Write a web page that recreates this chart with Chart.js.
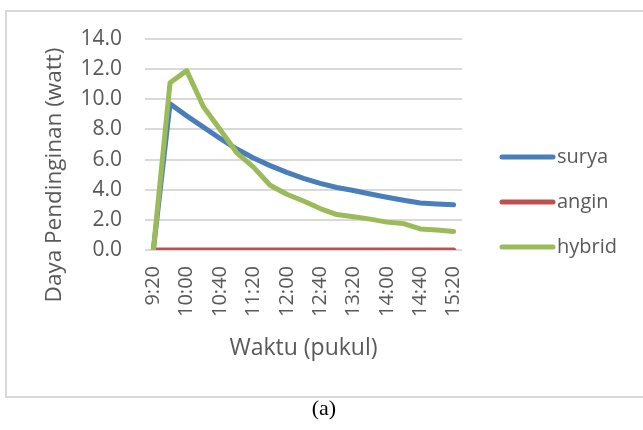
<!DOCTYPE html>
<html>
<head>
<meta charset="utf-8">
<script src="https://cdn.jsdelivr.net/npm/chart.js@4.4.0/dist/chart.umd.min.js"></script>
<style>
  html, body { margin: 0; padding: 0; background: #fff; width: 643px; height: 430px; overflow: hidden; }
  #frame { position: absolute; left: 5px; top: 10px; width: 700px; height: 388px; border: 2px solid #d9d9d9; box-sizing: border-box; }
  #wrap { position: absolute; left: 0; top: 0; width: 643px; height: 430px; }
  #caption { position: absolute; left: 0; width: 648px; top: 395px; text-align: center;
             font-family: 'Liberation Serif', 'Times New Roman', serif; font-size: 22px; color: #000; }
</style>
</head>
<body>
<div id="frame"></div>
<div id="wrap"><canvas id="c" width="643" height="430"></canvas></div>
<div id="caption">(a)</div>
<script>
// Time of day, every 20 minutes
const waktu = ['9:20', '9:40', '10:00', '10:20', '10:40', '11:00', '11:20', '11:40', '12:00', '12:20',
               '12:40', '13:00', '13:20', '13:40', '14:00', '14:20', '14:40', '15:00', '15:20'];

// Cooling power (watt) per source
const surya  = [0, 9.7, 8.9, 8.15, 7.4, 6.7, 6.1, 5.6, 5.15, 4.75, 4.42, 4.15, 3.95, 3.72, 3.5, 3.3, 3.12, 3.05, 3.0];
const angin  = [0, 0, 0, 0, 0, 0, 0, 0, 0, 0, 0, 0, 0, 0, 0, 0, 0, 0, 0];
const hybrid = [0, 11.1, 11.9, 9.5, 8.0, 6.45, 5.5, 4.3, 3.7, 3.25, 2.75, 2.35, 2.2, 2.05, 1.85, 1.75, 1.4, 1.32, 1.22];

const seriesNames  = ['surya', 'angin', 'hybrid'];
const seriesColors = ['#4a7ebb', '#c0504d', '#9bbb59'];

const yMin = 0, yMax = 14, yStep = 2;
const yTitle = 'Daya Pendinginan (watt)';
const xTitle = 'Waktu (pukul)';

const FONT = "'Open Sans'";
const TEXT = '#595959';

// Legend on the right plus the vertical axis title
const sideText = {
  id: 'sideText',
  afterDraw(chart) {
    const ctx = chart.ctx;
    ctx.save();
    ctx.fillStyle = TEXT;
    ctx.font = '22.5px ' + FONT;
    ctx.textAlign = 'center';
    ctx.textBaseline = 'middle';
    ctx.translate(55, 175);
    ctx.rotate(-Math.PI / 2);
    ctx.fillText(yTitle, 0, 0);
    ctx.restore();

    ctx.save();
    ctx.font = '20px ' + FONT;
    ctx.textBaseline = 'middle';
    ctx.lineCap = 'round';
    ctx.lineWidth = 5;
    chart.data.datasets.forEach((ds, i) => {
      const y = 157 + i * 45;
      ctx.strokeStyle = ds.borderColor;
      ctx.beginPath();
      ctx.moveTo(502, y);
      ctx.lineTo(553, y);
      ctx.stroke();
      ctx.fillStyle = TEXT;
      ctx.fillText(ds.label, 557, y);
    });
    ctx.restore();
  }
};

const seriesData = [surya, angin, hybrid];

new Chart(document.getElementById('c'), {
  type: 'line',
  data: {
    labels: waktu,
    datasets: seriesData.map((d, i) => ({
      label: seriesNames[i],
      data: d,
      borderColor: seriesColors[i],
      backgroundColor: seriesColors[i],
      borderWidth: 5,
      borderCapStyle: 'round',
      borderJoinStyle: 'round',
      pointRadius: 0,
      pointHoverRadius: 0,
      tension: 0,
      fill: false,
      order: 2 - i
    }))
  },
  options: {
    responsive: false,
    animation: false,
    events: [],
    layout: { padding: { left: 30, top: 39, right: 181, bottom: 68 } },
    plugins: { legend: { display: false }, tooltip: { enabled: false } },
    scales: {
      x: {
        type: 'category',
        offset: true,
        grid: { display: false, drawTicks: false },
        border: { display: false },
        ticks: {
          autoSkip: false,
          minRotation: 90,
          maxRotation: 90,
          padding: 16,
          color: TEXT,
          font: { family: FONT, size: 20 },
          callback(value, index) { return index % 2 === 0 ? waktu[index] : ''; }
        },
        title: { display: true, text: xTitle, color: TEXT, font: { family: FONT, size: 23 }, padding: { top: 0, bottom: 0 } },
        afterFit(scale) { scale.height = 112; }
      },
      y: {
        min: yMin,
        max: yMax,
        grid: { color: '#d9d9d9', lineWidth: 2, drawTicks: false },
        border: { display: false },
        ticks: {
          stepSize: yStep,
          padding: 23,
          color: TEXT,
          font: { family: FONT, size: 21 },
          callback(v) { return Number(v).toFixed(1); }
        },
        afterFit(scale) { scale.width = 115; }
      }
    }
  },
  plugins: [sideText]
});
</script>
</body>
</html>
